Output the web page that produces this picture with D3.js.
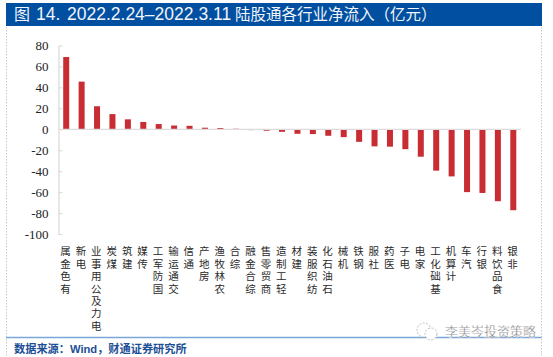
<!DOCTYPE html>
<html>
<head>
<meta charset="utf-8">
<script src="https://cdn.jsdelivr.net/npm/d3@7"></script>
<style>
html, body { margin: 0; padding: 0; background: #fff; }
.axis text { fill: #222; }
</style>
</head>
<body>
<div id="viz"></div>
<script>
const categories = ["有色金属", "电新", "电力及公用事业", "煤炭", "建筑", "传媒", "国防军工", "交通运输", "通信", "房地产",
    "农林牧渔", "综合", "综合金融", "商贸零售", "轻工制造", "建材", "纺织服装", "石油石化", "机械", "钢铁",
    "社服", "医药", "电子", "家电", "基础化工", "计算机", "汽车", "银行", "食品饮料", "非银"];
const inflows = [69, 45.5, 22, 14.5, 9.5, 7, 5, 3.6, 3.3, 1.5,
    1.2, 0.5, -0.8, -1.4, -2.4, -4.3, -4.6, -6.2, -7.5, -12,
    -16.3, -16.6, -19, -26.2, -39.5, -45, -60, -60.8, -68.7, -77.3];
const yTicks = [80, 60, 40, 20, 0, -20, -40, -60, -80, -100];

const titleParts = ["图", "14.", "2022.2.24–2022.3.11", "陆股通各行业净流入（亿元）"];
const sourceText = "数据来源：Wind，财通证券研究所";
const markText = "李美岑投资策略";

const width = 553;
const height = 357;
const margin = { left: 58.5, right: 32, top: 45.5, bottom: 123 };

const svg = d3.select("#viz").append("svg")
    .attr("width", width)
    .attr("height", height)
    .style("display", "block");

// dotted frame of the page
svg.selectAll(".frame")
    .data([6.5, 541.5])
    .join("line")
        .attr("class", "frame")
        .attr("x1", d => d)
        .attr("x2", d => d)
        .attr("y1", 3)
        .attr("y2", 357)
        .attr("stroke", "#c9c9c9")
        .attr("stroke-dasharray", "1.5,1.5");

svg.append("rect")
    .attr("x", 6)
    .attr("y", 3)
    .attr("width", 536)
    .attr("height", 23)
    .attr("fill", "#014fa0");

const title = svg.append("text")
    .attr("y", 20)
    .attr("fill", "#f2f5fa")
    .style("font-family", "'Liberation Sans', 'Noto Sans CJK SC', sans-serif");

// title pieces have different sizes in the original
title.selectAll("tspan")
    .data(titleParts)
    .join("tspan")
        .attr("x", (d, i) => [14, 36, 67, 235][i])
        .style("font-size", (d, i) => ["16px", "17.5px", "17.5px", "15.5px"][i])
        .text(d => d);

const xScale = d3.scaleBand()
    .domain(categories)
    .range([margin.left, width - margin.right]);

const yScale = d3.scaleLinear()
    .domain([-100, 80])
    .range([height - margin.bottom, margin.top]);

const yAxis = svg.append("g")
    .attr("class", "axis axis--y")
    .attr("transform", `translate(${margin.left},0)`)
    .call(d3.axisLeft(yScale).tickValues(yTicks).tickSize(4).tickSizeOuter(0).tickPadding(6).tickFormat(d => d));

yAxis.selectAll("text")
    .style("font-family", "'Liberation Serif', serif")
    .style("font-size", "13px");
yAxis.selectAll("line, path").attr("stroke", "#d9d9d9");
yAxis.select(".domain").attr("stroke-width", 1.2);
// ticks sit inside the plot
yAxis.selectAll(".tick line").attr("x2", 4);

svg.selectAll(".bar")
    .data(inflows)
    .join("rect")
        .attr("class", "bar")
        .attr("x", (d, i) => xScale(categories[i]) + xScale.bandwidth() / 2 - 3)
        .attr("width", 6)
        .attr("y", d => yScale(Math.max(d, 0)))
        .attr("height", d => Math.abs(yScale(d) - yScale(0)))
        .attr("fill", "#c82d33");

svg.append("line")
    .attr("x1", margin.left)
    .attr("x2", width - margin.right)
    .attr("y1", yScale(0))
    .attr("y2", yScale(0))
    .attr("stroke", "#dcdcdc")
    .attr("stroke-width", 1.2);

const xAxis = svg.append("g")
    .attr("class", "axis axis--x")
    .attr("transform", `translate(0,${yScale(-100)})`)
    .call(d3.axisBottom(xScale).tickSize(0).tickPadding(0));

xAxis.select(".domain").remove();

// labels run bottom to top, rotate="90" turns each glyph back upright
xAxis.selectAll("text")
    .attr("text-anchor", "end")
    .attr("y", 0)
    .attr("dy", 0)
    .attr("rotate", 90)
    .attr("transform", "translate(-6,9) rotate(-90)")
    .style("font-family", "'Noto Sans CJK SC', sans-serif")
    .style("font-size", "10.5px")
    .style("letter-spacing", "1.9px")
    .style("fill", "#2a2a2a");

svg.append("line")
    .attr("x1", 6)
    .attr("x2", 541.5)
    .attr("y1", 337.5)
    .attr("y2", 337.5)
    .attr("stroke", "#7ba6da")
    .attr("stroke-width", 1.3);

svg.append("text")
    .attr("x", 14)
    .attr("y", 353)
    .attr("fill", "#1c4f96")
    .style("font-family", "'Liberation Sans', 'Noto Sans CJK SC', sans-serif")
    .style("font-size", "11.2px")
    .style("font-weight", "bold")
    .text(sourceText);

// wechat watermark
const mark = svg.append("g");
mark.selectAll("circle")
    .data([[424, 330, 7], [431, 334, 6]])
    .join("circle")
        .attr("cx", d => d[0])
        .attr("cy", d => d[1])
        .attr("r", d => d[2])
        .attr("fill", "#fff")
        .attr("stroke", "#bdbdbd")
        .attr("stroke-dasharray", "2,1.5");
svg.append("text")
    .attr("x", 445)
    .attr("y", 336)
    .attr("fill", "#777")
    .attr("stroke", "#fff")
    .attr("stroke-width", 0.3)
    .style("font-family", "'Noto Sans CJK SC', sans-serif")
    .style("font-size", "13px")
    .text(markText);
</script>
</body>
</html>
